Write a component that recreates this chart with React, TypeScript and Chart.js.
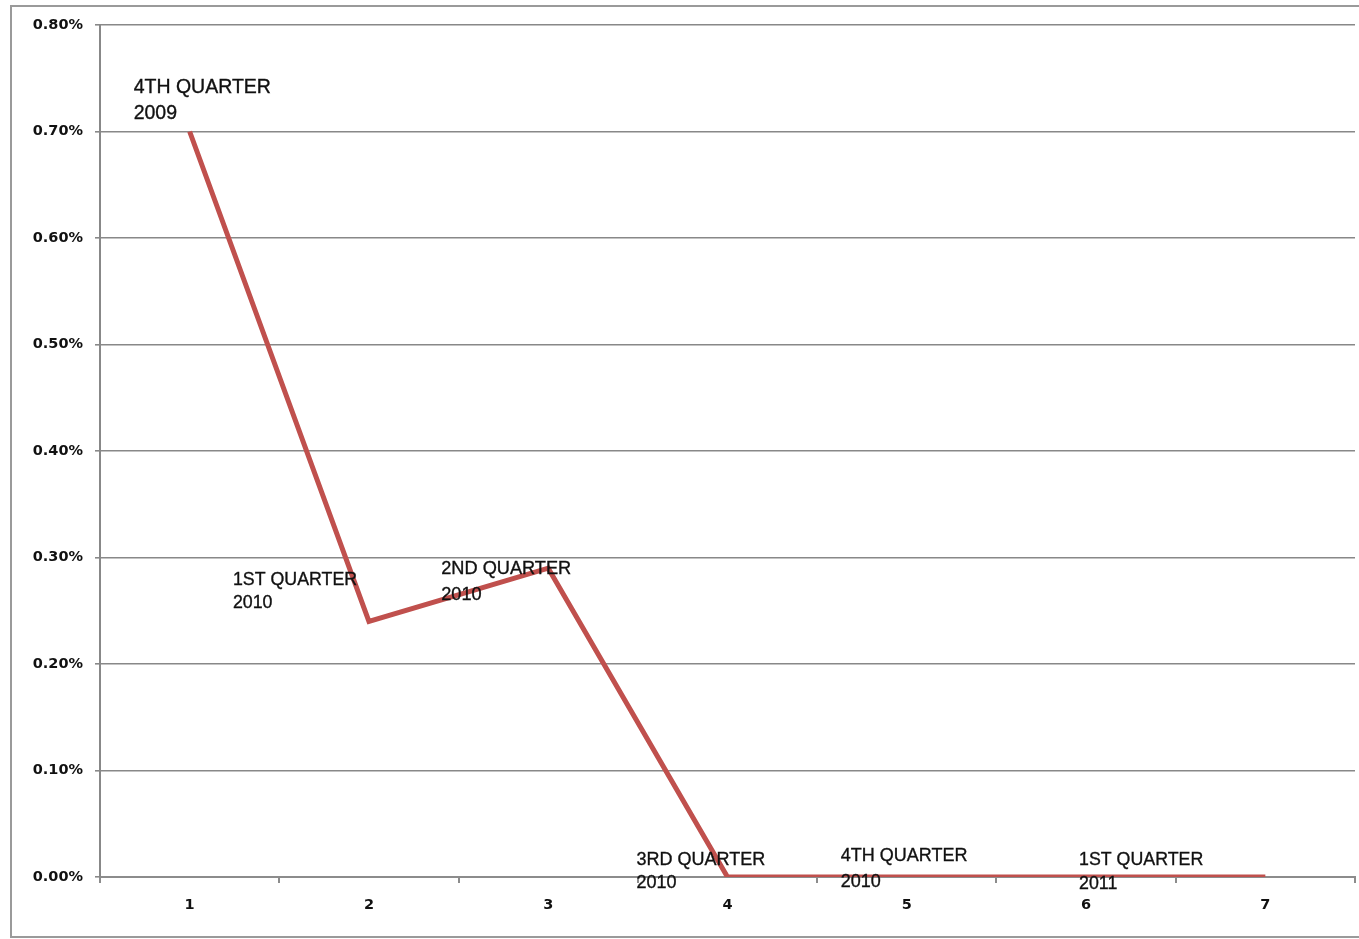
import React, { useEffect, useRef } from "react";
import { Chart, registerables } from "chart.js";

Chart.register(...registerables);

const categories = ["1", "2", "3", "4", "5", "6", "7"];
const rates = [0.7, 0.24, 0.29, 0, 0, 0, 0];
const pointLabels = [
  ["4TH QUARTER", "2009"],
  ["1ST QUARTER", "2010"],
  ["2ND QUARTER", "2010"],
  ["3RD QUARTER", "2010"],
  ["4TH QUARTER", "2010"],
  ["1ST QUARTER", "2011"],
  null,
];
// label placement relative to point: [dx, dy of first baseline, line height, font size]
const labelPlacement = [
  [-56, -39, 26, 19.5],
  [-136, -36, 23, 17.8],
  [-107, 6, 26, 18.2],
  [-91, -12, 23, 18],
  [-66, -16, 26, 18],
  [-7, -12, 24, 17.8],
  null,
];
const yTicksMin = 0;
const yTicksMax = 0.8;
const yStep = 0.1;

const frame = {
  id: "frame",
  beforeDraw(chart: any) {
    const ctx = chart.ctx;
    ctx.save();
    ctx.strokeStyle = "#9a9a9a";
    ctx.lineWidth = 2;
    ctx.strokeRect(11, 6, chart.width + 20, 931);
    ctx.restore();
  },
};

const labelsPlugin = {
  id: "pointTexts",
  afterDatasetsDraw(chart: any) {
    const ctx = chart.ctx;
    const meta = chart.getDatasetMeta(0);
    ctx.save();
    ctx.fillStyle = "#111111";
    ctx.strokeStyle = "#111111";
    ctx.lineWidth = 0.35;
    ctx.textAlign = "left";
    ctx.textBaseline = "alphabetic";
    pointLabels.forEach((lines, i) => {
      const pl = labelPlacement[i];
      if (!lines || !pl) return;
      const pt = meta.data[i];
      ctx.font = `${pl[3]}px "Liberation Sans", Arial, sans-serif`;
      lines.forEach((t, j) => {
        ctx.fillText(t, pt.x + pl[0], pt.y + pl[1] + j * pl[2]);
        ctx.strokeText(t, pt.x + pl[0], pt.y + pl[1] + j * pl[2]);
      });
    });
    ctx.restore();
  },
};

export default function App() {
  const ref = useRef<HTMLCanvasElement | null>(null);
  useEffect(() => {
    if (!ref.current) return;
    const chart = new Chart(ref.current, {
      type: "line",
      data: {
        labels: categories,
        datasets: [
          {
            data: rates,
            borderColor: "#C0504D",
            borderWidth: 5,
            pointRadius: 0,
            tension: 0,
            fill: false,
            borderJoinStyle: "miter",
          },
        ],
      },
      options: {
        animation: false,
        responsive: false,
        layout: { padding: { left: 0, top: 25, right: 4, bottom: 0 } },
        plugins: { legend: { display: false }, tooltip: { enabled: false } },
        scales: {
          x: {
            type: "category",
            offset: true,
            grid: {
              offset: true,
              drawOnChartArea: false,
              drawTicks: true,
              tickLength: 6,
              color: "#8c8c8c",
              lineWidth: 2,
            },
            border: { color: "#8c8c8c", width: 2 },
            ticks: {
              padding: 14,
              color: "#111111",
              font: { family: "'DejaVu Sans', sans-serif", size: 14.5, weight: "bold" },
            },
            afterFit(scale: any) {
              scale.height = 62;
            },
          },
          y: {
            min: yTicksMin,
            max: yTicksMax,
            ticks: {
              stepSize: yStep,
              padding: 12,
              color: "#111111",
              font: { family: "'DejaVu Sans', sans-serif", size: 14.5, weight: "bold" },
              callback: (v: any) => Number(v).toFixed(2) + "%",
            },
            grid: { color: "#888888", lineWidth: 1.6, tickLength: 5 },
            border: { color: "#888888", width: 2 },
            afterFit(scale: any) {
              scale.width = 100;
            },
          },
        },
      },
      plugins: [frame, labelsPlugin],
    } as any);
    return () => chart.destroy();
  }, []);
  return (
    <div style={{ position: "absolute", left: 0, top: 0, width: 1359, height: 939, background: "#fff" }}>
      <canvas ref={ref} width={1359} height={939} />
    </div>
  );
}
